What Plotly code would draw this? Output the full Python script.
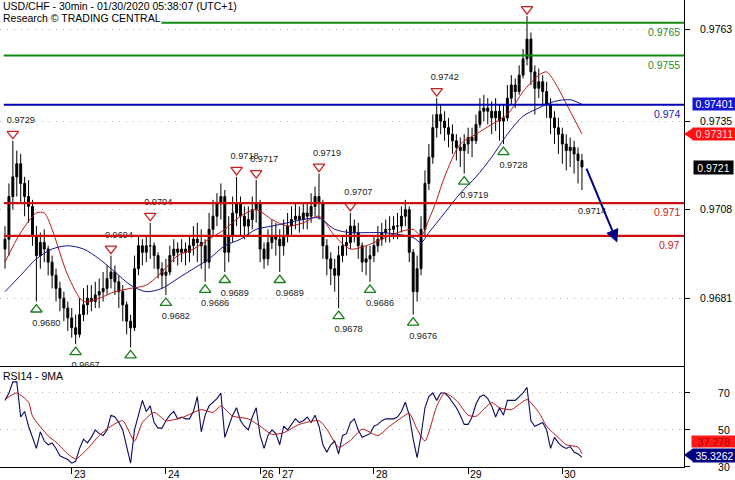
import plotly.graph_objects as go

# ---------------- text ----------------
TITLE_1 = "USD/CHF - 30min - 01/30/2020 05:38:07 (UTC+1)"
TITLE_2 = "Research © TRADING CENTRAL"
RSI_TITLE = "RSI14 - 9MA"

# ---------------- price data (hourly candles, price x 10000) ----------------
first_open = 9696
close_pips = [
    9699, 9712, 9718, 9722, 9716, 9712, 9709, 9700, 9694, 9698,
    9696, 9692, 9688, 9684, 9681, 9678, 9675, 9672, 9670, 9676,
    9679, 9681, 9680, 9682, 9683, 9684, 9687, 9689, 9686, 9683,
    9679, 9674, 9672, 9690, 9697, 9695, 9697, 9697, 9694, 9690,
    9688, 9689, 9694, 9696, 9695, 9696, 9695, 9697, 9699, 9698,
    9697, 9692, 9702, 9706, 9710, 9712, 9695, 9700, 9707, 9710,
    9706, 9703, 9705, 9708, 9710, 9696, 9693, 9698, 9700, 9699,
    9697, 9700, 9703, 9705, 9706, 9705, 9707, 9706, 9709, 9712,
    9710, 9697, 9693, 9690, 9688, 9694, 9697, 9698, 9703, 9701,
    9697, 9692, 9693, 9694, 9697, 9699, 9701, 9702, 9702, 9703,
    9703, 9706, 9708, 9695, 9683, 9690, 9702, 9716, 9724, 9733,
    9737, 9735, 9733, 9731, 9729, 9727, 9726, 9728, 9730, 9729,
    9734, 9738, 9739, 9738, 9736, 9738, 9735, 9736, 9742, 9746,
    9744, 9749, 9754, 9760, 9750, 9745, 9747, 9744, 9740, 9736,
    9733, 9731, 9728, 9726, 9727, 9725, 9723, 9721,
]
high_pips = [
    9703, 9716, 9729, 9726, 9725, 9718, 9717, 9711, 9703, 9701,
    9702, 9697, 9694, 9690, 9686, 9683, 9680, 9678, 9676, 9681,
    9684, 9685, 9685, 9686, 9687, 9689, 9691, 9694, 9691, 9688,
    9685, 9680, 9676, 9694, 9700, 9699, 9700, 9704, 9698, 9695,
    9692, 9693, 9697, 9699, 9698, 9699, 9698, 9700, 9703, 9704,
    9702, 9699, 9707, 9711, 9713, 9716, 9714, 9706, 9712, 9718,
    9712, 9709, 9709, 9712, 9717, 9711, 9698, 9702, 9705, 9704,
    9702, 9705, 9707, 9709, 9710, 9709, 9710, 9710, 9713, 9715,
    9719, 9711, 9699, 9695, 9693, 9697, 9700, 9702, 9707, 9705,
    9704, 9698, 9697, 9697, 9700, 9703, 9704, 9705, 9706, 9706,
    9707, 9709, 9711, 9709, 9696, 9694, 9706, 9720, 9728, 9737,
    9742, 9740, 9738, 9736, 9734, 9731, 9730, 9731, 9733, 9733,
    9737, 9742, 9743, 9742, 9741, 9742, 9740, 9740, 9746, 9749,
    9748, 9752, 9757, 9767, 9762, 9752, 9751, 9749, 9747, 9742,
    9738, 9736, 9733, 9731, 9730, 9729, 9727, 9725,
]
low_pips = [
    9690, 9694, 9708, 9712, 9710, 9706, 9704, 9697, 9680, 9690,
    9692, 9688, 9684, 9680, 9677, 9674, 9671, 9669, 9667, 9669,
    9674, 9676, 9677, 9678, 9678, 9680, 9682, 9684, 9682, 9678,
    9674, 9670, 9666, 9671, 9688, 9691, 9692, 9693, 9690, 9687,
    9684, 9682, 9688, 9692, 9691, 9692, 9691, 9692, 9694, 9692,
    9690, 9686, 9690, 9700, 9703, 9705, 9689, 9692, 9698, 9703,
    9700, 9699, 9700, 9702, 9704, 9692, 9690, 9691, 9696, 9694,
    9689, 9694, 9698, 9700, 9702, 9701, 9702, 9702, 9704, 9706,
    9705, 9693, 9688, 9685, 9683, 9678, 9692, 9694, 9696, 9698,
    9693, 9689, 9688, 9686, 9692, 9695, 9697, 9698, 9698, 9699,
    9699, 9701, 9703, 9692, 9676, 9680, 9688, 9700, 9714, 9722,
    9730, 9731, 9729, 9727, 9725, 9723, 9721, 9719, 9725, 9724,
    9728, 9733, 9735, 9734, 9731, 9732, 9729, 9728, 9735, 9740,
    9739, 9743, 9748, 9752, 9746, 9737, 9742, 9740, 9736, 9731,
    9728, 9725, 9722, 9720, 9721, 9719, 9716, 9714,
]

# day boundaries (bar index) and labels
day_idx = [17, 41, 65, 70, 94, 118, 142]
day_labels = ["23", "24", "26", "27", "28", "29", "30"]

# moving averages on price
red_ma_idx = [0, 4, 8, 10, 12, 16, 20, 24, 28, 32, 36, 40, 44, 48, 52, 56, 60, 64, 68, 72,
              76, 80, 84, 88, 92, 96, 100, 104, 106, 108, 110, 112, 116, 120, 124, 128, 132,
              136, 138, 140, 144, 147]
red_ma_pips = [9692, 9701, 9707, 9707, 9702, 9688, 9680, 9681, 9683, 9684, 9685, 9689, 9694,
               9696, 9699, 9702, 9706, 9708, 9705, 9703, 9704, 9706, 9700, 9696, 9697, 9699,
               9701, 9702, 9700, 9705, 9711, 9718, 9728, 9731, 9734, 9737, 9744, 9749, 9750,
               9747, 9738, 9731.1]
blue_ma_idx = [0, 4, 8, 12, 16, 20, 24, 28, 32, 36, 40, 44, 48, 52, 56, 60, 64, 68, 72, 76,
               80, 84, 88, 92, 96, 100, 104, 106, 108, 112, 116, 120, 124, 128, 132, 136, 140,
               144, 147]
blue_ma_pips = [9683, 9688, 9693, 9696, 9697, 9696, 9693, 9689, 9685, 9683, 9684, 9687, 9690,
                9693, 9697, 9699, 9702, 9703, 9704, 9705, 9705.5, 9702, 9701, 9701, 9701,
                9700.5, 9699.5, 9698, 9701, 9707, 9713, 9718, 9724, 9731, 9736.5, 9739, 9741,
                9741.5, 9740.1]

# RSI panel
rsi_vals = [
    66, 70, 76, 76, 57, 60, 52, 46, 40, 49,
    44, 42, 43, 40, 36, 35, 34, 32, 33, 40,
    45, 43, 46, 50, 48, 47, 50, 58, 57, 54,
    50, 41, 32, 50, 58, 66, 60, 63, 54, 51,
    51, 55, 58, 60, 56, 57, 56, 56, 60, 68,
    49, 58, 63, 65, 67, 70, 46, 52, 58, 62,
    55, 52, 50, 57, 62, 47, 40, 47, 50, 48,
    42, 52, 50, 53, 56, 54, 55, 57, 54, 58,
    52, 42, 38, 42, 44, 37, 47, 48, 54, 56,
    50, 46, 47, 48, 52, 53, 55, 56, 56, 56,
    57, 60, 65, 58, 45, 35, 47, 62, 68, 70,
    66, 70, 70, 68, 65, 62, 58, 53, 53, 57,
    64, 68, 69, 67, 63, 57, 62, 58, 66, 66,
    66, 68, 70, 73, 55, 52, 53, 54, 50, 40,
    46, 43, 41, 40, 41, 38, 37, 35.3262,
]
rsi_ma_idx = [0, 3, 6, 7, 11, 13, 16, 18, 21, 24, 27, 30, 33, 35, 38, 41, 45, 50, 53, 55,
              58, 62, 65, 68, 71, 75, 80, 82, 85, 88, 91, 95, 98, 101, 103, 105, 107, 110,
              112, 115, 118, 120, 124, 126, 129, 133, 136, 138, 141, 143, 146, 147]
rsi_ma_vals = [66.5, 70, 65, 57.5, 46.8, 43.4, 37, 34.3, 39.7, 47, 52, 55, 44, 54, 59.5, 55,
               56.6, 61, 59.5, 63, 57.5, 56, 52, 47.6, 48.5, 53, 55, 50.4, 40.7, 44.3, 50.4,
               47, 52, 56.6, 59, 50.4, 44, 62.8, 70, 66, 58, 57.4, 64.8, 62, 61, 66.4, 59.5,
               52, 45.8, 42, 40.7, 37.278]

# pivots
hi_idx = [2, 27, 37, 59, 64, 80, 88, 110, 133]
hi_val = [0.9729, 0.9694, 0.9704, 0.9718, 0.9717, 0.9719, 0.9707, 0.9742, 0.9767]
hi_lbl = ["0.9729", "0.9694", "0.9704", "0.9718", "0.9717", "0.9719", "0.9707", "0.9742", ""]
lo_idx = [8, 18, 32, 41, 51, 56, 70, 85, 93, 104, 117, 127, 147]
lo_val = [0.9680, 0.9667, 0.9666, 0.9682, 0.9686, 0.9689, 0.9689, 0.9678, 0.9686, 0.9676,
          0.9719, 0.9728, 0.9714]
lo_lbl = ["0.9680", "0.9667", "0.9666", "0.9682", "0.9686", "0.9689", "0.9689", "0.9678",
          "0.9686", "0.9676", "0.9719", "0.9728", "0.9714"]
lo_marker = [True] * 12 + [False]

# key levels
green_levels = [0.9765, 0.9755]
green_labels = ["0.9765", "0.9755"]
blue_level = 0.974
blue_label = "0.974"
red_levels = [0.971, 0.97]
red_labels = ["0.971", "0.97"]

price_ticks = [0.9763, 0.9735, 0.9708, 0.9681]
price_tick_text = ["0.9763", "0.9735", "0.9708", "0.9681"]
rsi_ticks = [30, 50, 70]

last_blue_ma = 0.97401
last_red_ma = 0.97311
last_price = 0.9721
last_rsi = 35.3262
last_rsi_ma = 37.278

forecast_target = 0.9698
forecast_bars = 8

# ---------------- derived ----------------
n = len(close_pips)
idx = list(range(n))
close = [v / 10000 for v in close_pips]
high = [v / 10000 for v in high_pips]
low = [v / 10000 for v in low_pips]
opens = [first_open / 10000] + close[:-1]
red_ma = [v / 10000 for v in red_ma_pips]
blue_ma = [v / 10000 for v in blue_ma_pips]

W, H = 735, 480
ML, MR, MT, MB = 0, 51, 0, 13
PW = W - ML - MR
PH = H - MT - MB
MAIN_PX = 366
split = (PH - MAIN_PX) / PH

X0, X1 = -1.274, 173.0
Y0, Y1 = 0.966034, 0.977192
ux = (X1 - X0) / PW
uy = (Y1 - Y0) / MAIN_PX

FONT = "Liberation Sans, Arial, sans-serif"
NAVY = "#000080"

fig = go.Figure()

fig.add_trace(go.Candlestick(
    x=idx, open=opens, high=high, low=low, close=close,
    increasing=dict(line=dict(color="black", width=1), fillcolor="black"),
    decreasing=dict(line=dict(color="black", width=1), fillcolor="black"),
    whiskerwidth=0, hoverinfo="skip", showlegend=False, xaxis="x", yaxis="y"))

fig.add_trace(go.Scatter(x=red_ma_idx, y=red_ma, mode="lines",
                         line=dict(color="#c01818", width=1, shape="spline", smoothing=0.8),
                         hoverinfo="skip", xaxis="x", yaxis="y"))
fig.add_trace(go.Scatter(x=blue_ma_idx, y=blue_ma, mode="lines",
                         line=dict(color="#14148c", width=1, shape="spline", smoothing=0.8),
                         hoverinfo="skip", xaxis="x", yaxis="y"))

# pivot markers
fig.add_trace(go.Scatter(
    x=hi_idx, y=[v + 7 * uy for v in hi_val], mode="markers",
    marker=dict(symbol="triangle-down-open", size=10, color="#cc2020", line=dict(width=1.3)),
    hoverinfo="skip", cliponaxis=True, xaxis="x", yaxis="y"))
fig.add_trace(go.Scatter(
    x=[i for i, m in zip(lo_idx, lo_marker) if m],
    y=[v - 8 * uy for v, m in zip(lo_val, lo_marker) if m], mode="markers",
    marker=dict(symbol="triangle-up-open", size=10, color="#1a801a", line=dict(width=1.3)),
    hoverinfo="skip", cliponaxis=True, xaxis="x", yaxis="y"))
# pivot labels
fig.add_trace(go.Scatter(
    x=[i + 8 * ux for i in hi_idx], y=[v + 20 * uy for v in hi_val], mode="text",
    text=hi_lbl, textposition="middle center",
    textfont=dict(family=FONT, size=9.2, color="#222222"),
    hoverinfo="skip", cliponaxis=True, xaxis="x", yaxis="y"))
fig.add_trace(go.Scatter(
    x=[i + 10 * ux for i in lo_idx], y=[v - 22 * uy for v in lo_val], mode="text",
    text=lo_lbl, textposition="middle center",
    textfont=dict(family=FONT, size=9.2, color="#222222"),
    hoverinfo="skip", cliponaxis=True, xaxis="x", yaxis="y"))

# RSI
fig.add_trace(go.Scatter(x=idx, y=rsi_vals, mode="lines",
                         line=dict(color="#0a0a60", width=1.1),
                         hoverinfo="skip", xaxis="x2", yaxis="y2"))
fig.add_trace(go.Scatter(x=rsi_ma_idx, y=rsi_ma_vals, mode="lines",
                         line=dict(color="#b41414", width=1, shape="spline", smoothing=0.6),
                         hoverinfo="skip", xaxis="x2", yaxis="y2"))

shapes = []
annotations = []


def hline(y, color, width):
    shapes.append(dict(type="line", xref="x", yref="y", x0=idx[0] - 0.3, x1=X1,
                       y0=y, y1=y, line=dict(color=color, width=width), layer="above"))


def level_label(y, text, color):
    annotations.append(dict(x=X1, y=y, xref="x", yref="y", xanchor="right", yanchor="top",
                            xshift=-2, yshift=-1, text=text, showarrow=False,
                            font=dict(family=FONT, size=10.5, color=color)))


for v, t in zip(green_levels, green_labels):
    hline(v, "#118a11", 2)
    level_label(v, t, "#2a8a2a")
hline(blue_level, "#0000b4", 2)
level_label(blue_level, blue_label, "#2020b0")
for v, t in zip(red_levels, red_labels):
    hline(v, "#d01010", 2.2)
    level_label(v, t, "#d02020")

# titles
annotations.append(dict(x=0, y=1, xref="paper", yref="paper", xanchor="left", yanchor="top",
                        xshift=2, yshift=1, text=TITLE_1, showarrow=False, borderpad=0,
                        font=dict(family=FONT, size=10.5, color="black")))
annotations.append(dict(x=0, y=1, xref="paper", yref="paper", xanchor="left", yanchor="top",
                        xshift=2, yshift=-11, text=TITLE_2, showarrow=False, borderpad=0,
                        bgcolor="white", font=dict(family=FONT, size=10.5, color="black")))
annotations.append(dict(x=0, y=split, xref="paper", yref="paper", xanchor="left", yanchor="top",
                        xshift=2, yshift=-3, text=RSI_TITLE, showarrow=False, borderpad=0,
                        font=dict(family=FONT, size=10.5, color="black")))

# day labels
for d, t in zip(day_idx, day_labels):
    annotations.append(dict(x=d, y=0, xref="x2", yref="paper", xanchor="left", yanchor="top",
                            xshift=1, yshift=0, text=t, showarrow=False, borderpad=0,
                            font=dict(family=FONT, size=10.5, color="black")))

# forecast arrow
annotations.append(dict(x=idx[-1] + 1 + forecast_bars, y=forecast_target, xref="x", yref="y",
                        ax=idx[-1] + 1, ay=close[-1], axref="x", ayref="y", text="",
                        showarrow=True, arrowhead=2, arrowsize=1.3, arrowwidth=2,
                        arrowcolor=NAVY))


# value boxes on the right axis
def value_box(y, yref, text, bg, fg, w, h, xshift, yshift=0, tip=False):
    annotations.append(dict(x=1, y=y, xref="paper", yref=yref, xanchor="left",
                            yanchor="middle", xshift=xshift, yshift=yshift, text=text,
                            showarrow=False, bgcolor=bg, borderpad=0, width=w, height=h,
                            align="center", font=dict(family=FONT, size=10.5, color=fg)))
    if tip:
        shapes.append(dict(type="path", xref="paper", yref=yref, xsizemode="pixel",
                           ysizemode="pixel", xanchor=1, yanchor=y,
                           path=f"M 0,{yshift} L {xshift + 1},{yshift + h / 2} "
                                f"L {xshift + 1},{yshift - h / 2} Z",
                           fillcolor=bg, line=dict(width=0), layer="above"))


value_box(last_blue_ma, "y", "0.97401", "#1414d2", "white", 43, 12, 8)
value_box(last_red_ma, "y", "0.97311", "#ff1010", "#ffd8d8", 43, 12, 8, tip=True)
value_box(last_price, "y", "0.9721", "black", "white", 39, 13, 9)
value_box(last_rsi_ma, "y2", "37.278", "#ff1a1a", "#b00000", 44, 11, 7, yshift=12)
value_box(last_rsi, "y2", "35.3262", NAVY, "white", 43, 13, 8, yshift=2, tip=True)

fig.update_layout(
    width=W, height=H, margin=dict(l=ML, r=MR, t=MT, b=MB),
    paper_bgcolor="white", plot_bgcolor="white", showlegend=False,
    font=dict(family=FONT, size=10.5, color="black"),
    xaxis=dict(domain=[0, 1], anchor="y", range=[X0, X1], showticklabels=False,
               showgrid=False, zeroline=False, showline=True, linecolor="black", linewidth=1,
               ticks="", rangeslider=dict(visible=False), fixedrange=True),
    yaxis=dict(domain=[split, 1], anchor="x", side="right", range=[Y0, Y1],
               tickvals=price_ticks, ticktext=price_tick_text, ticks="outside", ticklen=5,
               tickcolor="black", showline=True, linecolor="black", linewidth=1,
               showgrid=True, gridcolor="#b8b8b8", griddash="1px,6px", gridwidth=1,
               zeroline=False, ticklabelstandoff=8,
               tickfont=dict(family=FONT, size=10.5, color="black")),
    xaxis2=dict(domain=[0, 1], anchor="y2", range=[X0, X1], matches="x", tickvals=day_idx,
                ticks="outside", ticklen=6, tickcolor="black", showticklabels=False,
                showline=True, linecolor="black", linewidth=1, showgrid=False,
                zeroline=False),
    yaxis2=dict(domain=[0, split], anchor="x2", side="right", range=[29.95, 84.6],
                tickvals=rsi_ticks, ticks="outside", ticklen=5, tickcolor="black",
                showline=True, linecolor="black", linewidth=1, showgrid=True,
                gridcolor="#b8b8b8", griddash="1px,6px", zeroline=False,
                ticklabelstandoff=26, tickfont=dict(family=FONT, size=10.5, color="black")),
    shapes=shapes, annotations=annotations,
)

fig.write_html(
    "out.html",
    config={"displayModeBar": False},
    post_script="document.body.style.margin='0';document.body.style.padding='0';"
                "document.body.style.overflow='hidden';",
)
